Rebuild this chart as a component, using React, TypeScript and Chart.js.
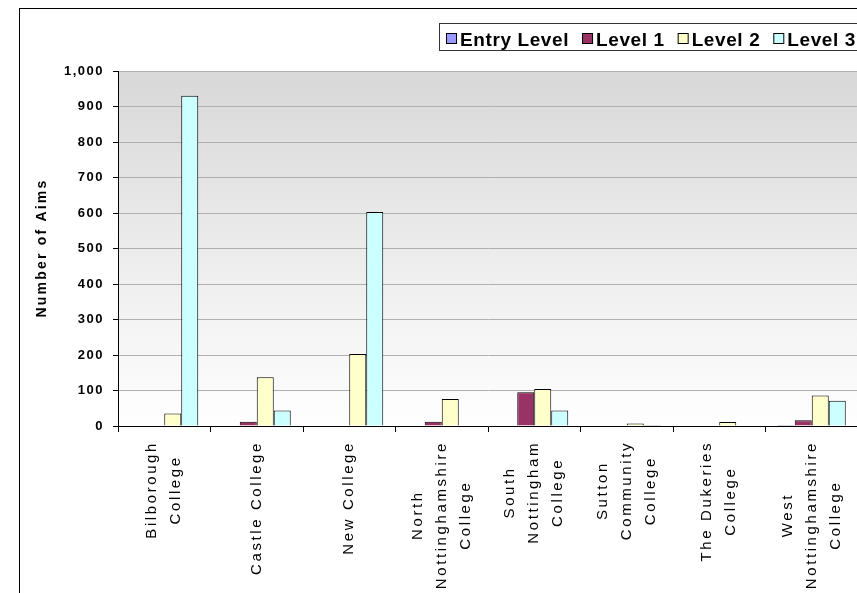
import React, { useEffect, useRef } from "react";
import { Chart, registerables } from "chart.js";

Chart.register(...registerables);

const FONT = "'Liberation Sans', Arial, sans-serif";

const categories: string[][] = [
  ["Bilborough", "College"],
  ["Castle College"],
  ["New College"],
  ["North", "Nottinghamshire", "College"],
  ["South", "Nottingham", "College"],
  ["Sutton", "Community", "College"],
  ["The Dukeries", "College"],
  ["West", "Nottinghamshire", "College"],
];

const seriesNames = ["Entry Level", "Level 1", "Level 2", "Level 3"];
const seriesColors = ["#9999FF", "#993366", "#FFFFCC", "#CCFFFF"];

const entryLevel = [0, 0, 0, 0, 0, 0, 0, 3];
const level1 = [0, 12, 0, 12, 95, 0, 0, 16];
const level2 = [35, 137, 203, 76, 104, 7, 11, 86];
const level3 = [930, 44, 603, 0, 44, 3, 0, 71];

const yMin = 0;
const yMax = 1000;
const yStep = 100;
const yTitle = "Number of Aims";

export default function App() {
  const ref = useRef<HTMLCanvasElement>(null);

  useEffect(() => {
    const canvas = ref.current!;
    const deco = {
      id: "deco",
      beforeDraw(chart: any) {
        const { ctx, chartArea: a } = chart;
        ctx.save();
        ctx.fillStyle = "#ffffff";
        ctx.fillRect(0, 0, chart.width, chart.height);
        const g = ctx.createLinearGradient(0, a.top, 0, a.bottom);
        g.addColorStop(0, "#d8d8d8");
        g.addColorStop(1, "#ffffff");
        ctx.fillStyle = g;
        ctx.fillRect(a.left, a.top, a.right - a.left, a.bottom - a.top);
        ctx.strokeStyle = "#000";
        ctx.lineWidth = 1;
        ctx.strokeRect(19.5, 8.5, chart.width + 10, chart.height + 10);
        ctx.restore();
        ctx.letterSpacing = "1.5px";
      },
      afterDraw(chart: any) {
        const { ctx } = chart;
        const xs = chart.scales.x;
        ctx.save();
        ctx.fillStyle = "#000";
        // category labels
        ctx.letterSpacing = "2.6px";
        ctx.font = `15px ${FONT}`;
        ctx.textAlign = "center";
        ctx.textBaseline = "middle";
        (chart.data.labels as string[][]).forEach((lines, i) => {
          const cx = xs.getPixelForValue(i);
          const w = Math.max(...lines.map((l) => ctx.measureText(l).width));
          const cy = 441 + w / 2;
          lines.forEach((line, k) => {
            const lx = cx + (k - (lines.length - 1) / 2) * 24;
            ctx.save();
            ctx.translate(lx, cy);
            ctx.rotate(-Math.PI / 2);
            ctx.fillText(line, 0, 0);
            ctx.restore();
          });
        });
        // y title
        ctx.letterSpacing = "2.2px";
        ctx.font = `bold 14px ${FONT}`;
        ctx.save();
        ctx.translate(42, 248);
        ctx.rotate(-Math.PI / 2);
        ctx.fillText(yTitle, 0, 0);
        ctx.restore();
        // legend
        ctx.letterSpacing = "0.6px";
        ctx.font = `bold 19px ${FONT}`;
        ctx.textAlign = "left";
        ctx.textBaseline = "alphabetic";
        ctx.strokeStyle = "#333";
        ctx.lineWidth = 1;
        ctx.strokeRect(439.5, 23.5, 440, 27);
        let x = 446;
        chart.data.datasets.forEach((ds: any) => {
          ctx.fillStyle = ds.backgroundColor;
          ctx.fillRect(x, 33, 11, 11);
          ctx.strokeStyle = "#000";
          ctx.strokeRect(x + 0.5, 33.5, 10, 10);
          ctx.fillStyle = "#000";
          ctx.fillText(ds.label, x + 14, 46);
          x += 14 + ctx.measureText(ds.label).width + 13;
        });
        ctx.restore();
        ctx.letterSpacing = "0px";
      },
    };

    const values = [entryLevel, level1, level2, level3];
    const chart = new Chart(canvas, {
      type: "bar",
      data: {
        labels: categories as any,
        datasets: seriesNames.map((name, i) => ({
          label: name,
          data: values[i],
          backgroundColor: seriesColors[i],
          borderColor: "#000",
          borderWidth: 1,
          categoryPercentage: 0.735,
          barPercentage: 1,
        })),
      },
      options: {
        responsive: false,
        animation: false,
        devicePixelRatio: 1,
        layout: { padding: { top: 71, left: 0, right: 12, bottom: 0 } },
        plugins: { legend: { display: false }, tooltip: { enabled: false }, title: { display: false } },
        scales: {
          x: {
            ticks: { display: false },
            grid: { drawOnChartArea: false, tickColor: "#000", tickLength: 6, offset: true },
            border: { color: "#000", width: 1 },
            afterFit(s: any) {
              s.height = 174;
            },
          },
          y: {
            min: yMin,
            max: yMax,
            ticks: {
              stepSize: yStep,
              color: "#000",
              padding: 9,
              font: { family: FONT, size: 13, weight: "bold" },
            },
            grid: { color: "#b0b0b0", tickColor: "#000", tickLength: 5, lineWidth: 1 },
            border: { color: "#000", width: 1 },
            afterFit(s: any) {
              s.width = 118;
            },
          },
        },
      },
      plugins: [deco],
    });
    return () => chart.destroy();
  }, []);

  return (
    <div
      style={{
        position: "fixed",
        left: 0,
        top: 0,
        width: 857,
        height: 593,
        overflow: "hidden",
        background: "#fff",
      }}
    >
      <canvas ref={ref} width={870} height={600} style={{ display: "block" }} />
    </div>
  );
}
